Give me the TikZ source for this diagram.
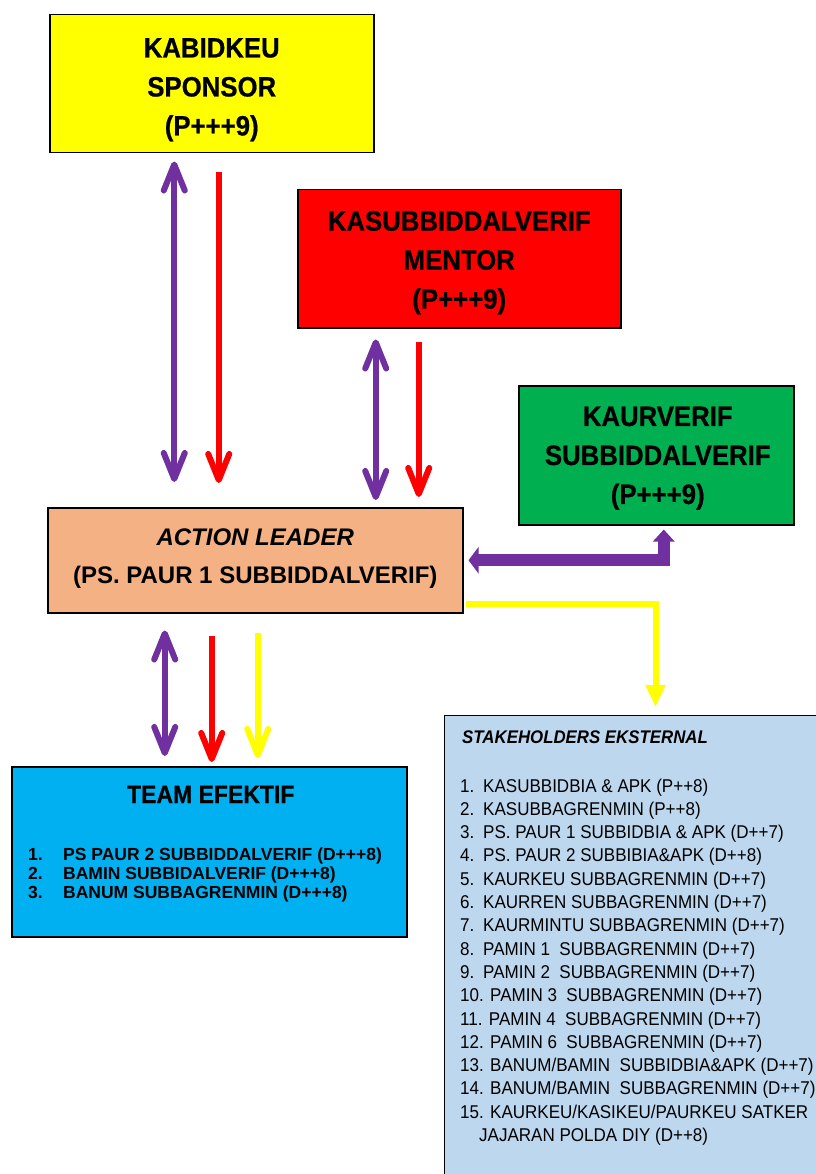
\documentclass[tikz,border=0pt]{standalone}
\usepackage{fontspec}
\setmainfont{Liberation Sans}
\newfontfamily\condfont{Liberation Sans}[FakeStretch=0.92]
\newfontfamily\heavyfont{Liberation Sans}[FakeStretch=0.92, BoldFeatures={FakeBold=0.6}]
\usetikzlibrary{arrows.meta,calc}
\definecolor{cyel}{HTML}{FFFF00}
\definecolor{cred}{HTML}{FF0000}
\definecolor{cgreen}{HTML}{00B050}
\definecolor{cpeach}{HTML}{F4B183}
\definecolor{ccyan}{HTML}{00B0F0}
\definecolor{clblue}{HTML}{BDD7EE}
\definecolor{cpurple}{HTML}{7030A0}
\begin{document}
\begin{tikzpicture}[x=1pt,y=-1pt,
  box/.style={draw=black, line width=1.5pt, inner sep=0pt, anchor=north west},
  titletext/.style={align=center, inner sep=0pt, font={\heavyfont\fontsize{28}{39}\selectfont\bfseries}},
  altext/.style={align=center, inner sep=0pt, font={\fontsize{24}{38}\selectfont\bfseries}},
  teamitem/.style={anchor=base west, inner sep=0pt, font={\fontsize{17.5}{19}\selectfont\bfseries}},
  shitem/.style={anchor=base west, inner sep=0pt, font={\condfont\fontsize{18.5}{23}\selectfont}},
  thinarrow/.style={line width=6pt, -{Straight Barb[length=26pt,width=21pt,round]}},
  dblarrow/.style={line width=6pt, {Straight Barb[length=26pt,width=21pt,round]}-{Straight Barb[length=26pt,width=21pt,round]}},
]
\useasboundingbox (0,0) rectangle (815,1174);

% boxes
\node[box, fill=cyel, minimum width=324pt, minimum height=138pt] (kab) at (49,14) {};
\node[box, fill=cred, minimum width=323pt, minimum height=138pt] (kas) at (297,189) {};
\node[box, fill=cgreen, minimum width=275pt, minimum height=139pt] (kv) at (518,385) {};
\node[box, fill=cpeach, minimum width=415pt, minimum height=105pt] (al) at (47,507) {};
\node[box, fill=ccyan, minimum width=395pt, minimum height=170pt] (te) at (11,766) {};
\node[box, fill=clblue, line width=1pt, minimum width=380pt, minimum height=470pt] (sh) at (444,715) {};

% box texts
\node[titletext] (kabt) at ($(kab.center)+(0,6)$) {KABIDKEU\\SPONSOR\\(P+++9)};
\node[titletext] (kast) at ($(kas.center)+(0,4)$) {KASUBBIDDALVERIF\\MENTOR\\(P+++9)};
\node[titletext] (kvt) at ($(kv.center)+(1.5,3)$) {KAURVERIF\\SUBBIDDALVERIF\\(P+++9)};
\node[altext] (alt) at ($(al.center)+(0,-1.5)$) {\textit{ACTION LEADER}\\(PS. PAUR 1 SUBBIDDALVERIF)};

\node[anchor=base, inner sep=0pt, font={\heavyfont\fontsize{25}{28}\selectfont\bfseries}] (tet) at ($(te.north)+(1.5,37)$) {TEAM EFEKTIF};
\node[teamitem] (te1) at ($(te.north west)+(17,94)$) {\makebox[35pt][l]{1.}PS PAUR 2 SUBBIDDALVERIF (D+++8)};
\node[teamitem] (te2) at ($(te.north west)+(17,113)$) {\makebox[35pt][l]{2.}BAMIN SUBBIDALVERIF (D+++8)};
\node[teamitem] (te3) at ($(te.north west)+(17,132)$) {\makebox[35pt][l]{3.}BANUM SUBBAGRENMIN (D+++8)};

\node[anchor=base west, inner sep=0pt, font={\condfont\fontsize{18.3}{20}\selectfont\bfseries\itshape}] (sht) at ($(sh.north west)+(18,28)$) {STAKEHOLDERS EKSTERNAL};
\foreach \t [count=\i from 0] in {
  {\makebox[23pt][l]{1.}KASUBBIDBIA \& APK (P++8)},
  {\makebox[23pt][l]{2.}KASUBBAGRENMIN (P++8)},
  {\makebox[23pt][l]{3.}PS. PAUR 1 SUBBIDBIA \& APK (D++7)},
  {\makebox[23pt][l]{4.}PS. PAUR 2 SUBBIBIA\&APK (D++8)},
  {\makebox[23pt][l]{5.}KAURKEU SUBBAGRENMIN (D++7)},
  {\makebox[23pt][l]{6.}KAURREN SUBBAGRENMIN (D++7)},
  {\makebox[23pt][l]{7.}KAURMINTU SUBBAGRENMIN (D++7)},
  {\makebox[23pt][l]{8.}PAMIN 1\ \ SUBBAGRENMIN (D++7)},
  {\makebox[23pt][l]{9.}PAMIN 2\ \ SUBBAGRENMIN (D++7)},
  {10. PAMIN 3\ \ SUBBAGRENMIN (D++7)},
  {11. PAMIN 4\ \ SUBBAGRENMIN (D++7)},
  {12. PAMIN 6\ \ SUBBAGRENMIN (D++7)},
  {13. BANUM/BAMIN\ \ SUBBIDBIA\&APK (D++7)},
  {14. BANUM/BAMIN\ \ SUBBAGRENMIN (D++7)},
  {15. KAURKEU/KASIKEU/PAURKEU SATKER},
  {\makebox[19pt]{}JAJARAN POLDA DIY (D++8)}
}{
  \node[shitem] (sh\i) at ($(sh.north west)+(16,77+23.3*\i)$) {\t};
}

% connectors
\draw[dblarrow, cpurple] ($(kab.south)+(-37.5,8)$) -- ($(al.north)+(-81,-25)$);
\draw[thinarrow, cred, line cap=butt] ($(kab.south)+(7,19)$) -- ($(al.north)+(-36.5,-24)$);
\draw[dblarrow, cpurple] ($(kas.south)+(-83.5,11)$) -- ($(al.north)+(120.5,-7)$);
\draw[thinarrow, cred] ($(kas.south)+(-40.5,13)$) -- ($(al.north)+(163.5,-10)$);

\draw[dblarrow, cpurple] ($(al.south)+(-90.5,17)$) -- ($(te.north)+(-44.5,-10)$);
\draw[thinarrow, cred] ($(al.south)+(-43.5,22)$) -- ($(te.north)+(2.5,-4)$);
\draw[thinarrow, cyel] ($(al.south)+(2.5,19)$) -- ($(te.north)+(48.5,-8)$);

\draw[cpurple, line width=12pt, line join=miter,
  {Triangle[length=10pt,width=26pt]}-{Triangle[length=12pt,width=21pt]}]
  ($(al.east)+(5,0)$) -| ($(kv.south)+(7.5,4)$);
\draw[cyel, line width=6pt, line join=miter, -{Triangle[length=22pt,width=19pt]}]
  ($(al.south east)+(2,-10)$) -| ($(sh.north)+(21,-8)$);
\end{tikzpicture}
\end{document}
